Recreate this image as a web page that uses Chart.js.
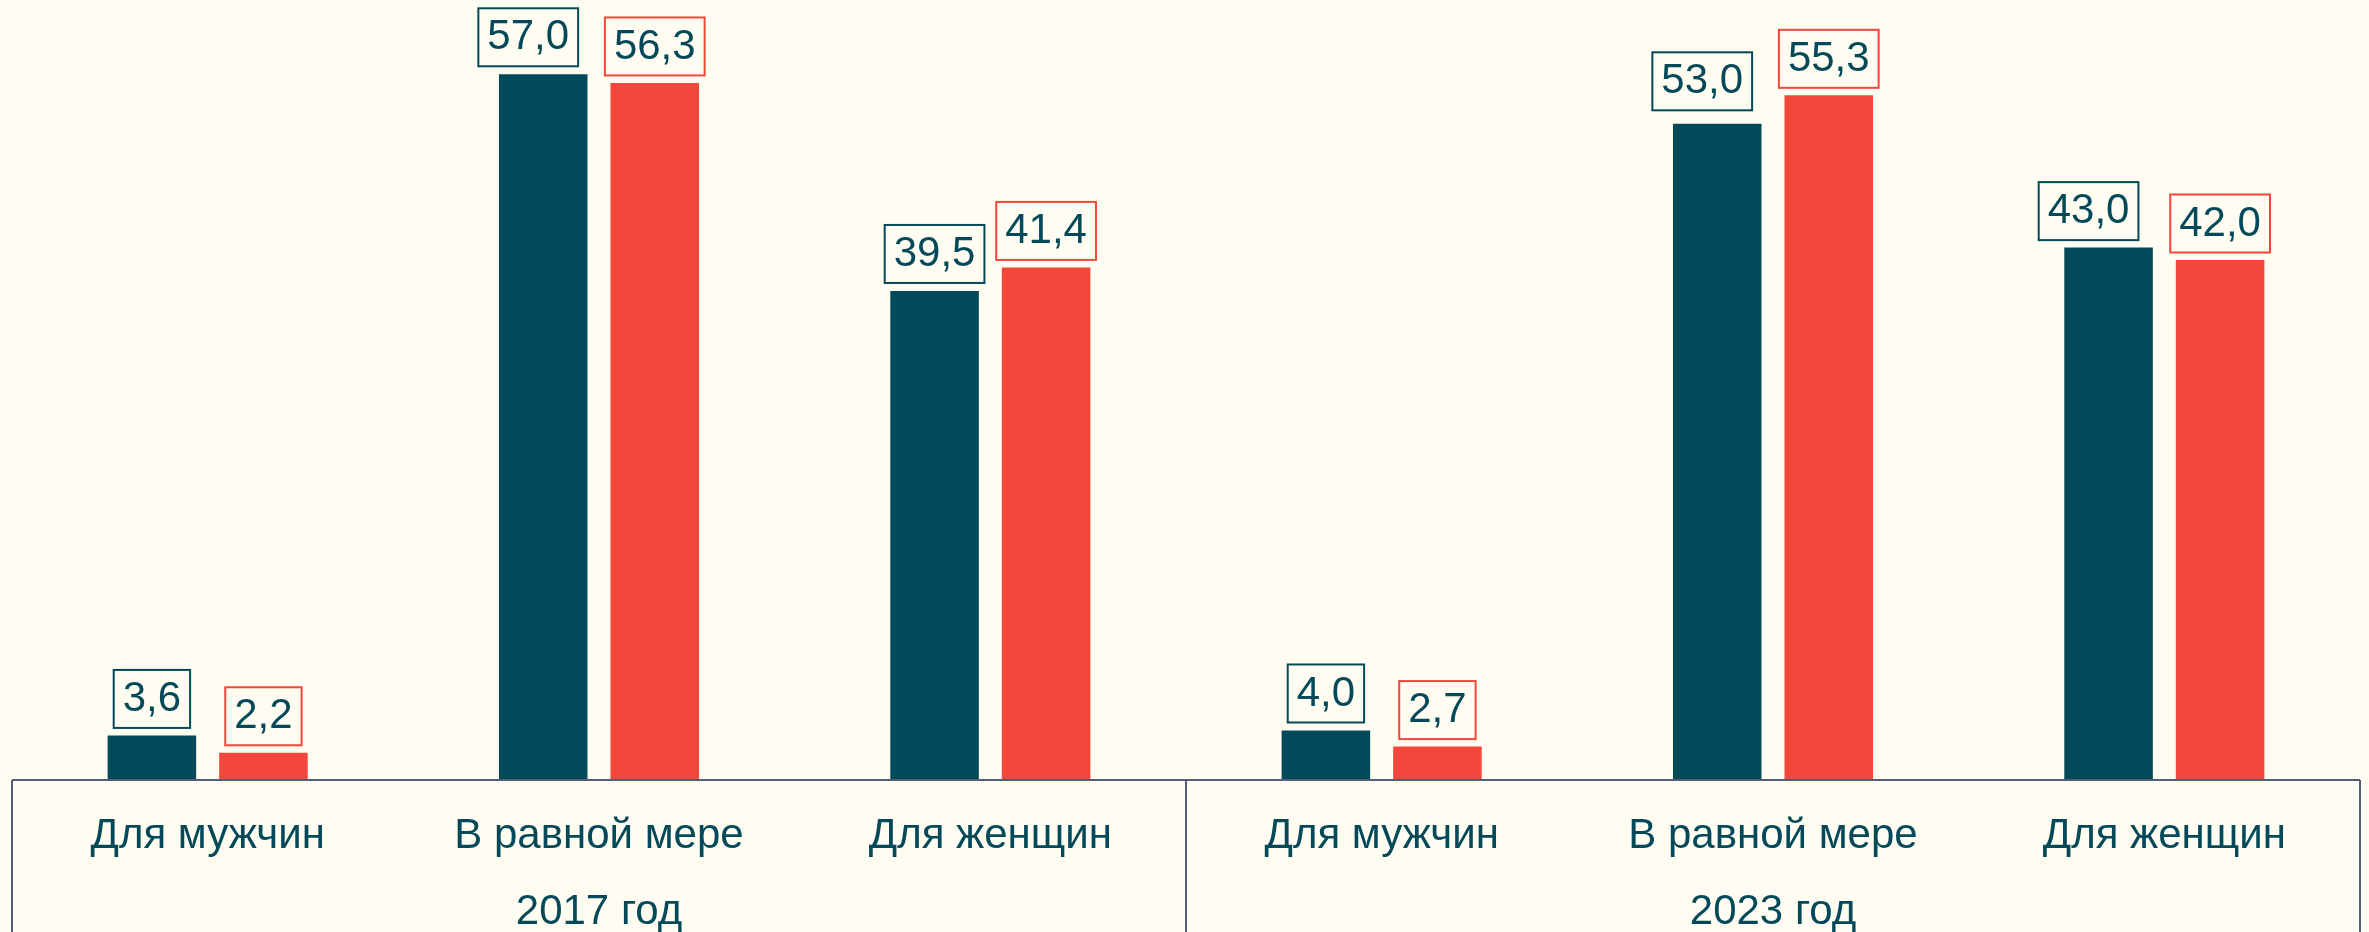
<!DOCTYPE html>
<html>
<head>
<meta charset="utf-8">
<style>
html, body { margin: 0; padding: 0; background: #fffdf1; overflow: hidden; }
#wrap { position: relative; width: 2369px; height: 932px; }
</style>
<script src="https://cdn.jsdelivr.net/npm/chart.js"></script>
</head>
<body>
<div id="wrap"><canvas id="chart"></canvas></div>
<script>
// данные
const categories = ['Для мужчин', 'В равной мере', 'Для женщин', 'Для мужчин', 'В равной мере', 'Для женщин'];
const years = ['2017 год', '2023 год'];
const seriesDark = [3.6, 57.0, 39.5, 4.0, 53.0, 43.0];
const seriesRed = [2.2, 56.3, 41.4, 2.7, 55.3, 42.0];

const DARK = '#03495a';
const RED = '#f2473a';
const LINE = '#535e76';
const FONT = "'Liberation Sans', Arial, sans-serif";

// подписи значений в рамках (ручной сдвиг некоторых подписей, как в оригинале)
const boxLabels = {
  id: 'boxLabels',
  afterDatasetsDraw(chart, args, opts) {
    const ctx = chart.ctx;
    ctx.save();
    ctx.font = '42px ' + FONT;
    ctx.textAlign = 'center';
    ctx.textBaseline = 'middle';
    chart.data.datasets.forEach((ds, i) => {
      const meta = chart.getDatasetMeta(i);
      const shift = opts.shift[i] || [];
      meta.data.forEach((bar, j) => {
        const [dx, dy] = shift[j] || [0, 0];
        const txt = ds.data[j].toFixed(1).replace('.', ',');
        const w = ctx.measureText(txt).width + 18;
        const h = 58;
        const cx = bar.x + dx;
        const bottom = bar.y - 7.5 - dy;
        ctx.strokeStyle = ds.backgroundColor;
        ctx.lineWidth = 2;
        ctx.strokeRect(cx - w / 2, bottom - h, w, h);
        ctx.fillStyle = DARK;
        ctx.fillText(txt, cx, bottom - h / 2 + 0.5);
      });
    });
    ctx.restore();
  }
};

// рамка таблицы под осью
const axisBox = {
  id: 'axisBox',
  afterDatasetsDraw(chart) {
    const ctx = chart.ctx;
    const a = chart.chartArea;
    const x2 = chart.scales.x2;
    const mid = (x2.getPixelForValue(0) + x2.getPixelForValue(1)) / 2;
    ctx.save();
    ctx.strokeStyle = LINE;
    ctx.lineWidth = 2;
    ctx.beginPath();
    ctx.moveTo(a.left, a.bottom);
    ctx.lineTo(a.right, a.bottom);
    [a.left, mid, a.right].forEach(x => {
      ctx.moveTo(x, a.bottom);
      ctx.lineTo(x, chart.height);
    });
    ctx.stroke();
    ctx.restore();
  }
};

new Chart(document.getElementById('chart'), {
  type: 'bar',
  data: {
    labels: categories,
    datasets: [
      { data: seriesDark, backgroundColor: DARK, categoryPercentage: 0.57, barPercentage: 0.794 },
      { data: seriesRed, backgroundColor: RED, categoryPercentage: 0.57, barPercentage: 0.794 }
    ]
  },
  options: {
    responsive: true,
    maintainAspectRatio: false,
    animation: false,
    layout: { padding: { left: 12, right: 9, top: 0, bottom: 0 } },
    plugins: {
      legend: { display: false },
      tooltip: { enabled: false },
      boxLabels: {
        shift: [
          [[0, 0], [-15, 0.5], [0, 0.5], [0, 0.5], [-15, 6], [-20, 0]],
          []
        ]
      }
    },
    scales: {
      y: { display: false, min: 0, max: 63 },
      x: {
        grid: { display: false, drawTicks: false },
        border: { display: false },
        ticks: { color: DARK, font: { size: 42, family: FONT }, padding: 31, maxRotation: 0, autoSkip: false },
        afterFit: s => { s.height = 106; }
      },
      x2: {
        type: 'category',
        labels: years,
        position: 'bottom',
        offset: true,
        grid: { display: false, drawTicks: false },
        border: { display: false },
        ticks: { color: DARK, font: { size: 42, family: FONT }, padding: 1, maxRotation: 0 },
        afterFit: s => { s.height = 46; }
      }
    }
  },
  plugins: [boxLabels, axisBox]
});
</script>
</body>
</html>
